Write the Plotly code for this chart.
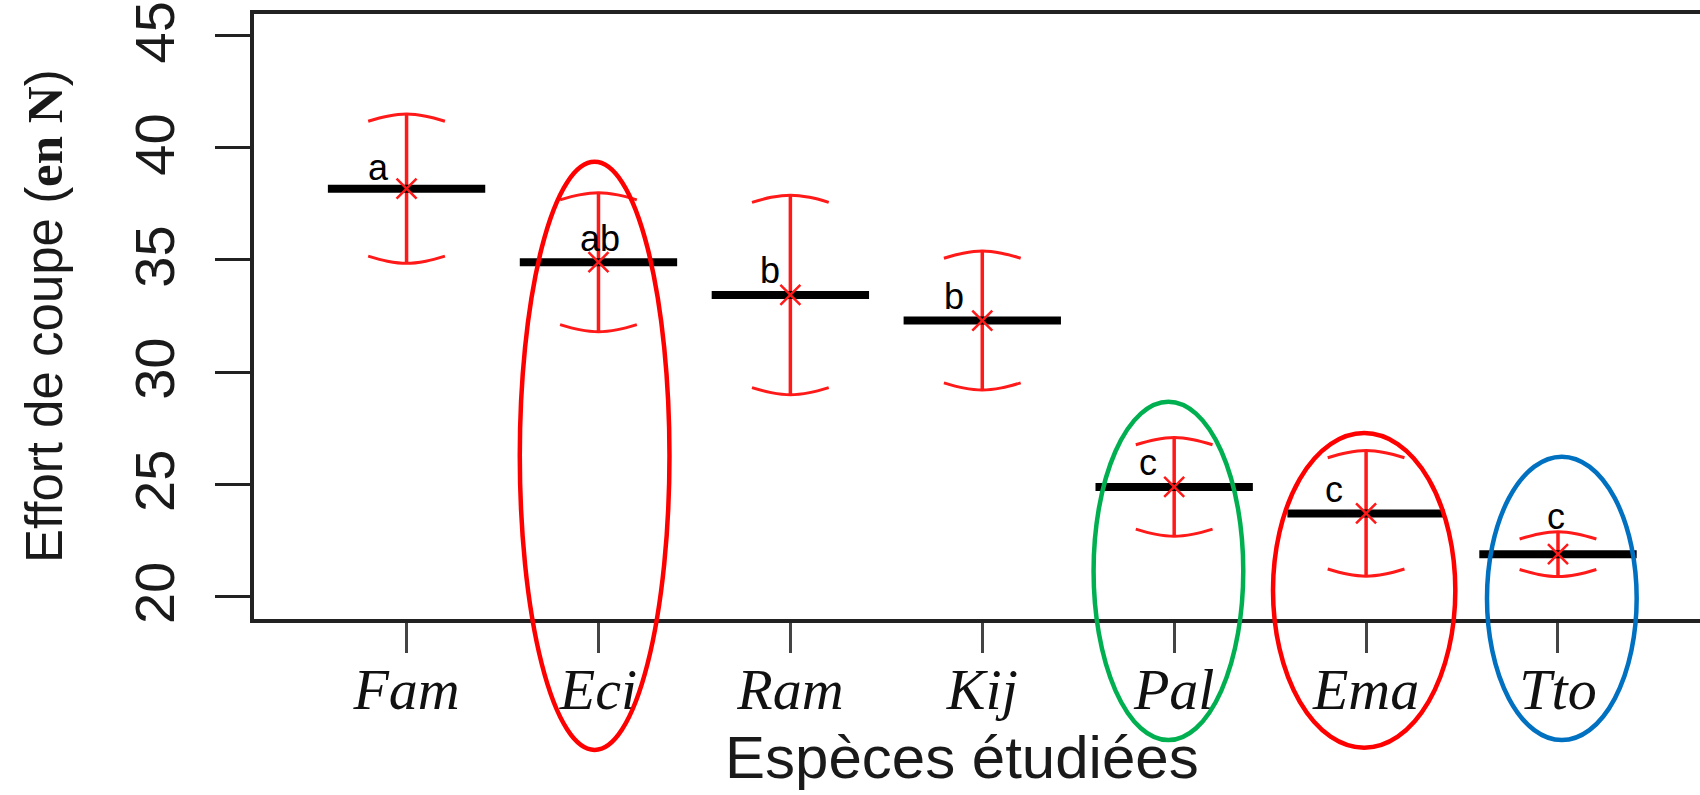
import plotly.graph_objects as go

# ---------------- data ----------------
categories = ["Fam", "Eci", "Ram", "Kij", "Pal", "Ema", "Tto"]
means = [38.18, 34.90, 33.44, 32.30, 24.88, 23.70, 21.88]
sem = [3.33, 3.10, 4.45, 3.10, 2.20, 2.80, 1.00]
letters = ["a", "ab", "b", "b", "c", "c", "c"]
y_ticks = [20, 25, 30, 35, 40, 45]

# highlight ellipses: (centre index, half width in category units, top value, bottom value, colour)
highlights = [
    (0.98, 0.39, 39.38, 13.15, "#FF0000"),
    (3.97, 0.39, 28.68, 13.59, "#00B050"),
    (4.99, 0.475, 27.28, 13.25, "#FF0000"),
    (6.02, 0.39, 26.23, 13.59, "#0070C0"),
]

# letter placement (pixel shifts from the mean point)
letter_dx = [-28, 2, -20, -28, -26, -32, -2]
letter_dy = [21, 24, 24, 24, 24, 24, 38]

# ---------------- styling ----------------
XMIN, XMAX = -0.795, 6.74
YMIN, YMAX = 18.99, 45.97
RED = "rgb(255,25,25)"
BAR_HALF = 0.41
CAP_HALF = 0.2
CAP_DROOP = 0.32

xs = list(range(len(categories)))
fig = go.Figure()

# vertical error lines
ex, ey = [], []
for i, (m, s) in enumerate(zip(means, sem)):
    ex += [i, i, None]
    ey += [m - s, m + s, None]
fig.add_trace(go.Scatter(x=ex, y=ey, mode="lines", line=dict(color=RED, width=3.5),
                         hoverinfo="skip", showlegend=False))

# curved caps
prof = [1, 0.3, 0, 0.3, 1]
offs = [-CAP_HALF, -CAP_HALF / 2, 0, CAP_HALF / 2, CAP_HALF]
for i, (m, s) in enumerate(zip(means, sem)):
    hi, lo = m + s, m - s
    fig.add_trace(go.Scatter(x=[i + o for o in offs], y=[hi - CAP_DROOP * p for p in prof],
                             mode="lines", line=dict(color=RED, width=3, shape="spline"),
                             hoverinfo="skip", showlegend=False))
    fig.add_trace(go.Scatter(x=[i + o for o in offs], y=[lo + CAP_DROOP * p for p in prof],
                             mode="lines", line=dict(color=RED, width=3, shape="spline"),
                             hoverinfo="skip", showlegend=False))

# black mean bars
bx, by = [], []
for i, m in enumerate(means):
    bx += [i - BAR_HALF, i + BAR_HALF, None]
    by += [m, m, None]
fig.add_trace(go.Scatter(x=bx, y=by, mode="lines", line=dict(color="black", width=8),
                         hoverinfo="skip", showlegend=False))

# red x at the mean
fig.add_trace(go.Scatter(x=xs, y=means, mode="markers",
                         marker=dict(symbol="x-thin", size=20, line=dict(color=RED, width=2.5)),
                         showlegend=False))

annotations = []
for i, (m, lab) in enumerate(zip(means, letters)):
    annotations.append(dict(x=i, y=m, xref="x", yref="y", text=lab, showarrow=False,
                            xshift=letter_dx[i], yshift=letter_dy[i], xanchor="center",
                            yanchor="middle",
                            font=dict(family="Liberation Sans", size=36, color="black")))

L, R, T, B = 254, 0, 14, 176
W, H = 1700, 795
pw, ph = W - L - R, H - T - B


def px_x(px):
    return (px - L) / pw


def px_y(py):
    return (H - B - py) / ph


annotations.append(dict(text="Espèces étudiées", x=px_x(962), y=px_y(757), xref="paper", yref="paper",
                        showarrow=False, xanchor="center", yanchor="middle",
                        font=dict(family="Liberation Sans", size=60, color="#1a1a1a")))
annotations.append(dict(text="Effort de coupe (<span style='font-family:Liberation Serif'><b>en N</b></span>)",
                        x=px_x(44), y=px_y(316), xref="paper", yref="paper", textangle=-90,
                        showarrow=False, xanchor="center", yanchor="middle",
                        font=dict(family="Liberation Sans", size=51, color="#1a1a1a")))

shapes = []
for cx, hw, ytop, ybot, col in highlights:
    shapes.append(dict(type="circle", xref="paper", yref="paper",
                       x0=(cx - hw - XMIN) / (XMAX - XMIN), x1=(cx + hw - XMIN) / (XMAX - XMIN),
                       y0=(ybot - YMIN) / (YMAX - YMIN), y1=(ytop - YMIN) / (YMAX - YMIN),
                       line=dict(color=col, width=4.5), layer="above"))

fig.update_layout(
    template="none",
    width=W, height=H,
    margin=dict(l=L, r=R, t=T, b=B, autoexpand=False),
    plot_bgcolor="white", paper_bgcolor="white",
    showlegend=False,
    annotations=annotations, shapes=shapes,
    xaxis=dict(range=[XMIN, XMAX], tickvals=xs, ticktext=categories, automargin=False,
               showline=True, linewidth=4, linecolor="#222", mirror=True,
               ticks="outside", ticklen=30, tickwidth=3, tickcolor="#444",
               tickfont=dict(family="Liberation Serif", size=58, style="italic", color="#111"),
               showgrid=False, zeroline=False, ticklabelstandoff=-14),
    yaxis=dict(range=[YMIN, YMAX], tickvals=y_ticks, ticktext=[str(v) for v in y_ticks],
               automargin=False, ticklabeloverflow="allow",
               showline=True, linewidth=4, linecolor="#222", mirror=False,
               ticks="outside", ticklen=35, tickwidth=3, tickcolor="#222",
               tickangle=-90, ticklabelstandoff=19, ticklabelshift=5,
               tickfont=dict(family="Liberation Sans", size=56, color="#1a1a1a"),
               showgrid=False, zeroline=False),
)

fig.write_html("out.html", config={"displayModeBar": False},
               post_script="document.body.style.margin='0';document.body.style.overflow='hidden';")
